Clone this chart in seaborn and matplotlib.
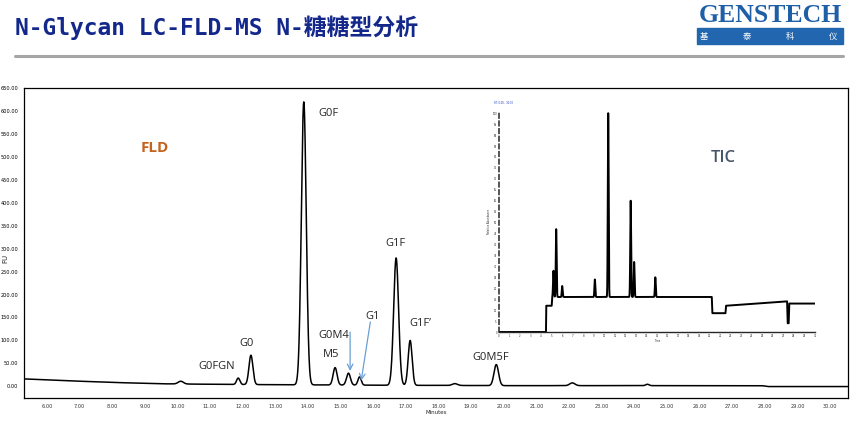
import numpy as np
import pandas as pd
import matplotlib
matplotlib.use("Agg")
import matplotlib.pyplot as plt
from matplotlib.ticker import MultipleLocator, FormatStrFormatter
import seaborn as sns

# FLD chromatogram: peak table (min, FU, sigma min)
fld_rt = [10.10, 11.86, 12.25, 13.87, 14.83, 15.24, 15.58, 16.70, 17.13, 18.50, 19.77, 22.10, 24.40]
fld_height = [6, 14, 64, 618, 38, 26, 18, 278, 98, 4, 46, 6, 3]
fld_sigma = [0.08, 0.05, 0.06, 0.075, 0.06, 0.06, 0.05, 0.075, 0.06, 0.08, 0.07, 0.08, 0.05]
# slowly drifting baseline (min, FU)
fld_bl_t = [5.2, 6.5, 8.0, 9.5, 11.0, 13.0, 16.0, 20.0, 25.0, 27.9, 28.1, 30.6]
fld_bl_v = [16, 12, 8, 5, 4, 3, 2, 1, 1, 1, -1, -1]

# labelled glycans: (label, x min, y FU)
glycan_names = ["G0FGN", "G0", "G0F", "M5", "G0M4", "G1", "G1F", "G1F\u2019", "G0M5F"]
glycan_x = [11.21, 12.13, 14.62, 14.71, 14.80, 15.97, 16.67, 17.44, 19.59]
glycan_y = [43, 93, 596, 70, 111, 152, 311, 137, 63]

# TIC inset, relative abundance (%)
tic_rt = [5.17, 5.43, 6.0, 9.1, 10.37, 12.5, 12.83, 14.84]
tic_height = [12, 31, 5, 8, 84, 44, 16, 9]
tic_bl_t = [4.46, 4.48, 5.00, 5.05, 20.2, 20.25, 21.5, 21.55, 27.35, 27.4, 27.5, 27.55, 30.0]
tic_bl_v = [0, 12, 12, 16, 16, 8.6, 8.6, 12, 14, 4, 4, 13, 13]


def trace(t, rt, height, sigma, bl_t, bl_v):
    y = np.interp(t, bl_t, bl_v)
    for r, h, s in zip(rt, height, sigma):
        y = y + h * np.exp(-0.5 * ((t - r) / s) ** 2)
    return y


sns.set_style("white")
plt.rcParams['font.family'] = ['DejaVu Sans', 'Noto Sans CJK SC']

fig = plt.figure(figsize=(8.6, 4.41), dpi=100)

# header
fig.text(15 / 860, 1 - 28 / 441, "N-Glycan LC-FLD-MS N-糖糖型分析",
         family=['DejaVu Sans Mono', 'Noto Sans CJK SC'], fontsize=16.5, fontweight='bold',
         color='#14288C', va='center', ha='left')
fig.add_artist(plt.Line2D([15 / 860, 843 / 860], [1 - 56 / 441] * 2, color='#A6A6A6', lw=2.2))
fig.text(770 / 860, 1 - 15 / 441, "GENSTECH", family='Liberation Serif', fontsize=18.5,
         fontweight='bold', color='#1F5FA6', ha='center', va='center')
fig.patches.append(plt.Rectangle((697 / 860, 1 - 44 / 441), 146 / 860, 16 / 441,
                                 transform=fig.transFigure, color='#2266B0', zorder=1))
for i, ch in enumerate("基泰科仪"):
    fig.text((704 + i * 43) / 860, 1 - 36 / 441, ch, family='Noto Sans CJK SC', fontsize=6,
             color='white', ha='center', va='center', zorder=2)

# main FLD chromatogram
ax = fig.add_axes([24 / 860, 1 - 398 / 441, 824 / 860, 310 / 441])
t = np.arange(5.2, 30.6, 0.005)
fld = pd.DataFrame({"Minutes": t, "FU": trace(t, fld_rt, fld_height, fld_sigma, fld_bl_t, fld_bl_v)})
sns.lineplot(data=fld, x="Minutes", y="FU", ax=ax, color='black', lw=1.1)
ax.set_xlim(5.295, 30.55)
ax.set_ylim(-26, 651)
ax.xaxis.set_major_locator(MultipleLocator(1))
ax.xaxis.set_minor_locator(MultipleLocator(0.2))
ax.yaxis.set_major_locator(MultipleLocator(50))
ax.yaxis.set_minor_locator(MultipleLocator(10))
ax.xaxis.set_major_formatter(FormatStrFormatter('%.2f'))
ax.yaxis.set_major_formatter(FormatStrFormatter('%.2f'))
ax.tick_params(which='both', direction='out', labelsize=3.6, colors='black', width=0.6, pad=1)
ax.tick_params(which='major', length=3)
ax.tick_params(which='minor', length=1.5)
ax.tick_params(axis='x', which='both', labelcolor='#333333')
for s in ax.spines.values():
    s.set_linewidth(0.9)
    s.set_color('black')
ax.set_xlabel("Minutes", fontsize=4, labelpad=1)
ax.set_ylabel("FU", fontsize=5)
ax.yaxis.set_label_coords(-0.019, 0.45)
ax.grid(False)

for name, x, y in zip(glycan_names, glycan_x, glycan_y):
    ax.text(x, y, name, family='Open Sans', fontsize=8, color='#262626', ha='center', va='center')
arrow_kw = dict(arrowstyle='->', color='#6A9FD4', lw=0.9, shrinkA=0, shrinkB=0)
ax.annotate("", xy=(15.29, 33), xytext=(15.29, 118), arrowprops=arrow_kw)
ax.annotate("", xy=(15.63, 12), xytext=(15.91, 140), arrowprops=arrow_kw)
ax.text(9.31, 520, "FLD", family='Open Sans', fontsize=11, fontweight='bold', color='#C5621C',
        ha='center', va='center')

# TIC inset
ins = fig.add_axes([499 / 860, 1 - 332 / 441, 316 / 860, 221 / 441])
tt = np.arange(0, 30, 0.005)
tic = pd.DataFrame({"t": tt, "I": trace(tt, tic_rt, tic_height, [0.04] * len(tic_rt), tic_bl_t, tic_bl_v)})
sns.lineplot(data=tic, x="t", y="I", ax=ins, color='black', lw=1.4)
ins.set_xlim(0, 30)
ins.set_ylim(0, 101)
ins.patch.set_alpha(0)
ins.spines['top'].set_visible(False)
ins.spines['right'].set_visible(False)
ins.spines['left'].set_linestyle((0, (3, 2)))
ins.spines['left'].set_linewidth(1.1)
ins.spines['bottom'].set_linewidth(1.0)
ins.xaxis.set_major_locator(MultipleLocator(1))
ins.xaxis.set_minor_locator(MultipleLocator(0.5))
ins.yaxis.set_major_locator(MultipleLocator(5))
ins.tick_params(which='both', direction='out', labelsize=1.8, length=1, width=0.5, pad=0.5)
ins.set_xlabel("Time", fontsize=1.8, labelpad=0.5)
ins.set_ylabel("Relative Abundance", fontsize=1.8, labelpad=1)
ins.text(-0.5, 104, "RT: 0.00 - 30.00", fontsize=1.8, color='#1F3FBF', clip_on=False)
ins.text(21.3, 79.7, "TIC", family='Open Sans', fontsize=12, fontweight='semibold',
         color='#44546A', ha='center', va='center')
ins.grid(False)

plt.savefig("out.png", dpi=100)
